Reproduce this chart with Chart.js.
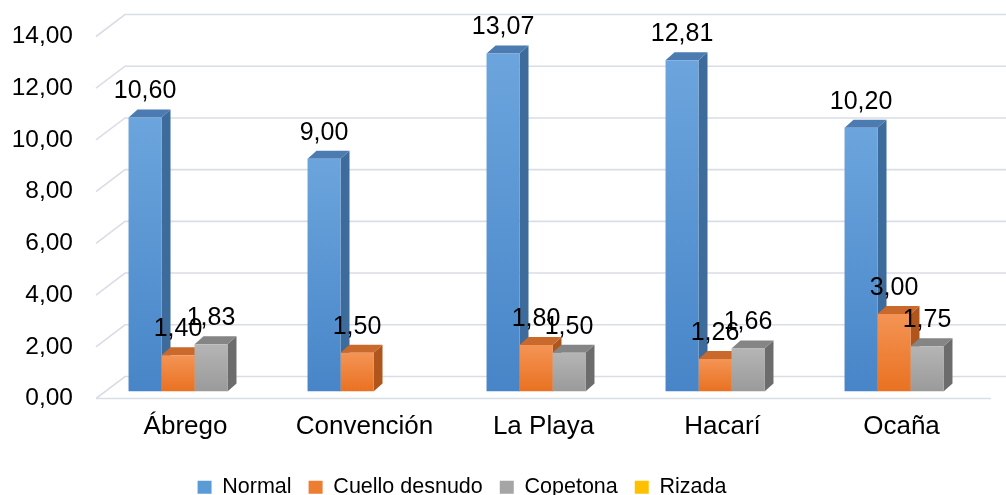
<!DOCTYPE html>
<html>
<head>
<meta charset="utf-8">
<script src="https://cdn.jsdelivr.net/npm/chart.js@4.4.1/dist/chart.umd.min.js"></script>
<style>
  html, body { margin: 0; padding: 0; background: #fff; overflow: hidden; }
  #wrap { width: 1006px; height: 508px; }
</style>
</head>
<body>
<div id="wrap"><canvas id="chart" width="1006" height="508"></canvas></div>
<script>
const categories = ['Ábrego', 'Convención', 'La Playa', 'Hacarí', 'Ocaña'];
const normal = [10.60, 9.00, 13.07, 12.81, 10.20];
const cuelloDesnudo = [1.40, 1.50, 1.80, 1.26, 3.00];
const copetona = [1.83, null, 1.50, 1.66, 1.75];
const rizada = [null, null, null, null, null];
const yTicks = [0, 2, 4, 6, 8, 10, 12, 14];

// colours per series: front top/bottom, side, top face, legend swatch
const palette = [
  { hi: '#6ca5dd', lo: '#4785c8', side: '#3d6b9c', top: '#4b7bb1', key: '#5b9bd5' },
  { hi: '#f49455', lo: '#e97121', side: '#b0561d', top: '#c9692b', key: '#ed7d31' },
  { hi: '#b5b5b5', lo: '#9a9a9a', side: '#6c6c6c', top: '#858585', key: '#a5a5a5' },
  { hi: '#ffcd33', lo: '#f5b800', side: '#b88a00', top: '#cc9a00', key: '#ffc000' }
];

// 3D offsets relative to the plane the bars stand on
const BACK = { dx: 20, dy: -15 };
const FRONT = { dx: -9, dy: 7 };
const DEPTH = { dx: 9, dy: -8 };
const FONT = '"Liberation Sans", Arial, sans-serif';

const fmt = v => v.toFixed(2).replace('.', ',');

function frontFill(i) {
  return ctx => {
    const chart = ctx.chart;
    const ys = chart.scales.y;
    const v = ctx.raw;
    if (!ys || v == null || !chart.chartArea) return palette[i].hi;
    const top = ys.getPixelForValue(v);
    const base = ys.getPixelForValue(0);
    const g = chart.ctx.createLinearGradient(0, top, 0, base);
    g.addColorStop(0, palette[i].hi);
    g.addColorStop(1, palette[i].lo);
    return g;
  };
}

const walls = {
  id: 'walls',
  afterLayout(chart) {
    // legend sits a little left of centre
    chart.legend.left -= 38;
    chart.legend.right -= 38;
  },
  beforeDatasetsDraw(chart) {
    const { ctx, chartArea: a, scales: { y } } = chart;
    ctx.save();
    ctx.strokeStyle = '#d9dde5';
    ctx.lineWidth = 1.6;
    yTicks.forEach(v => {
      const py = y.getPixelForValue(v);
      ctx.beginPath();
      ctx.moveTo(a.left + FRONT.dx, py + FRONT.dy);
      ctx.lineTo(a.left + BACK.dx, py + BACK.dy);
      ctx.lineTo(a.right + BACK.dx + 10, py + BACK.dy);
      ctx.stroke();
    });
    const base = y.getPixelForValue(0);
    ctx.beginPath();
    ctx.moveTo(a.left + FRONT.dx, base + FRONT.dy);
    ctx.lineTo(a.right + FRONT.dx, base + FRONT.dy);
    ctx.stroke();

    // side and top faces of each bar, series in order
    chart.data.datasets.forEach((ds, i) => {
      const meta = chart.getDatasetMeta(i);
      meta.data.forEach((bar, j) => {
        if (ds.data[j] == null) return;
        const { x, y: top, base: b, width } = bar.getProps(['x', 'y', 'base', 'width'], true);
        const l = x - width / 2, r = x + width / 2;
        ctx.fillStyle = palette[i].side;
        ctx.beginPath();
        ctx.moveTo(r, top);
        ctx.lineTo(r + DEPTH.dx, top + DEPTH.dy);
        ctx.lineTo(r + DEPTH.dx, b + DEPTH.dy);
        ctx.lineTo(r, b);
        ctx.closePath();
        ctx.fill();
        ctx.fillStyle = palette[i].top;
        ctx.beginPath();
        ctx.moveTo(l, top);
        ctx.lineTo(l + DEPTH.dx, top + DEPTH.dy);
        ctx.lineTo(r + DEPTH.dx, top + DEPTH.dy);
        ctx.lineTo(r, top);
        ctx.closePath();
        ctx.fill();
      });
    });
    ctx.restore();
  },
  afterDatasetsDraw(chart) {
    const { ctx } = chart;
    ctx.save();
    ctx.fillStyle = '#000';
    ctx.font = '25px ' + FONT;
    ctx.textAlign = 'center';
    ctx.textBaseline = 'middle';
    chart.data.datasets.forEach((ds, i) => {
      chart.getDatasetMeta(i).data.forEach((bar, j) => {
        const v = ds.data[j];
        if (v == null) return;
        const { x, y } = bar.getProps(['x', 'y'], true);
        ctx.fillText(fmt(v), x, y - 26);
      });
    });
    ctx.restore();
  }
};

const series = [
  ['Normal', normal],
  ['Cuello desnudo', cuelloDesnudo],
  ['Copetona', copetona],
  ['Rizada', rizada]
];

new Chart(document.getElementById('chart'), {
  type: 'bar',
  data: {
    labels: categories,
    datasets: series.map(([label, data], i) => ({
      label,
      data,
      backgroundColor: frontFill(i),
      borderWidth: 0,
      barPercentage: 1,
      categoryPercentage: 0.737
    }))
  },
  options: {
    responsive: false,
    animation: false,
    layout: { padding: { top: 29.5, right: 6, left: 0, bottom: 0 } },
    scales: {
      x: {
        grid: { display: false, drawTicks: false },
        border: { display: false },
        ticks: {
          color: '#000',
          padding: 20,
          labelOffset: -9,
          font: { family: FONT, size: 26 }
        },
        afterFit: s => { s.height = 68; s.paddingLeft = 0; s.paddingRight = 0; }
      },
      y: {
        min: 0,
        max: 14,
        grid: { display: false, drawTicks: false },
        border: { display: false },
        ticks: {
          stepSize: 2,
          color: '#000',
          padding: 32,
          labelOffset: 7,
          callback: v => fmt(v),
          font: { family: FONT, size: 24.5 }
        },
        afterFit: s => { s.width = 105; s.paddingTop = 0; s.paddingBottom = 0; }
      }
    },
    plugins: {
      tooltip: { enabled: false },
      legend: {
        position: 'bottom',
        labels: {
          color: '#000',
          boxWidth: 14,
          boxHeight: 13,
          padding: 17,
          font: { family: FONT, size: 21.5 },
          generateLabels: () => series.map(([label], i) => ({
            text: label,
            fillStyle: palette[i].key,
            strokeStyle: palette[i].key,
            lineWidth: 0,
            datasetIndex: i
          }))
        }
      }
    }
  },
  plugins: [walls]
});
</script>
</body>
</html>
